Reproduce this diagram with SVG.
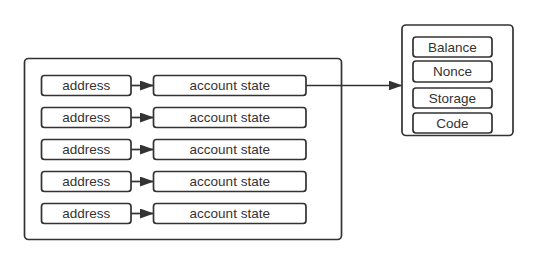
<svg xmlns="http://www.w3.org/2000/svg" width="539" height="265" viewBox="0 0 539 265">
<defs>
<style>
.box{fill:#fff;stroke:#333;stroke-width:1.7}
.c{fill:none;stroke:#333;stroke-width:1.7}
text{font-family:"Liberation Sans",Arial,sans-serif;font-size:13.5px;fill:#333;text-anchor:middle;dominant-baseline:central}
</style>
<marker id="ah" markerWidth="14" markerHeight="10" refX="13" refY="5" orient="auto" markerUnits="userSpaceOnUse">
<path d="M0,0 L14,5 L0,10 Z" fill="#333"/>
</marker>
</defs>
<rect width="539" height="265" fill="#fff"/>
<g id="map"><rect class="box" x="24.5" y="58.5" width="317" height="181" rx="4"/></g>
<g id="account"><rect class="box" x="402" y="25" width="111" height="110.5" rx="4"/></g>
<g id="balance"><rect class="box" x="413" y="37" width="79" height="20" rx="3"/><text x="452.5" y="47">Balance</text></g>
<g id="nonce"><rect class="box" x="413" y="61" width="79" height="21" rx="3"/><text x="452.5" y="71.5">Nonce</text></g>
<g id="storage"><rect class="box" x="413" y="88" width="79" height="20" rx="3"/><text x="452.5" y="98">Storage</text></g>
<g id="code"><rect class="box" x="413" y="113" width="79" height="20" rx="3"/><text x="452.5" y="123">Code</text></g>
<g id="addr1"><rect class="box" x="41.5" y="75.5" width="89.5" height="20" rx="3"/><text x="86.25" y="85.5">address</text></g>
<g id="state1"><rect class="box" x="153.5" y="75.5" width="152.5" height="20" rx="3"/><text x="229.75" y="85.5">account state</text></g>
<g id="addr2"><rect class="box" x="41.5" y="107.5" width="89.5" height="20" rx="3"/><text x="86.25" y="117.5">address</text></g>
<g id="state2"><rect class="box" x="153.5" y="107.5" width="152.5" height="20" rx="3"/><text x="229.75" y="117.5">account state</text></g>
<g id="addr3"><rect class="box" x="41.5" y="139.5" width="89.5" height="20" rx="3"/><text x="86.25" y="149.5">address</text></g>
<g id="state3"><rect class="box" x="153.5" y="139.5" width="152.5" height="20" rx="3"/><text x="229.75" y="149.5">account state</text></g>
<g id="addr4"><rect class="box" x="41.5" y="171.5" width="89.5" height="20" rx="3"/><text x="86.25" y="181.5">address</text></g>
<g id="state4"><rect class="box" x="153.5" y="171.5" width="152.5" height="20" rx="3"/><text x="229.75" y="181.5">account state</text></g>
<g id="addr5"><rect class="box" x="41.5" y="203.5" width="89.5" height="20" rx="3"/><text x="86.25" y="213.5">address</text></g>
<g id="state5"><rect class="box" x="153.5" y="203.5" width="152.5" height="20" rx="3"/><text x="229.75" y="213.5">account state</text></g>
<g id="connectors">
<path class="c" d="M131,85.5 H153" marker-end="url(#ah)"/>
<path class="c" d="M131,117.5 H153" marker-end="url(#ah)"/>
<path class="c" d="M131,149.5 H153" marker-end="url(#ah)"/>
<path class="c" d="M131,181.5 H153" marker-end="url(#ah)"/>
<path class="c" d="M131,213.5 H153" marker-end="url(#ah)"/>
<path class="c" d="M306,85.5 H401.5" marker-end="url(#ah)"/>
</g>
</svg>
